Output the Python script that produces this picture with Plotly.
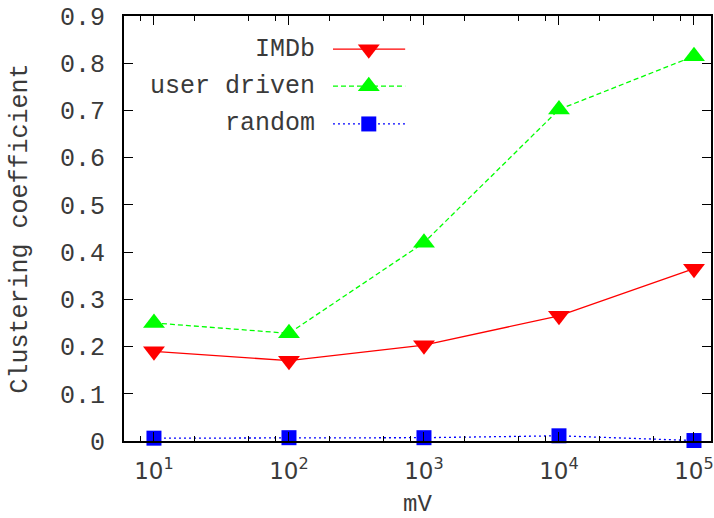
import plotly.graph_objects as go

# ---- data ----
x_mv = [10, 100, 1000, 10000, 100000]
imdb = [0.190, 0.170, 0.203, 0.265, 0.365]
user_driven = [0.250, 0.228, 0.420, 0.702, 0.815]
random_vals = [0.006, 0.007, 0.007, 0.011, 0.001]

series_names = ["IMDb", "user driven", "random"]
x_tickvals = [10, 100, 1000, 10000, 100000]
x_ticktext = ["10<sup>1</sup>", "10<sup>2</sup>", "10<sup>3</sup>", "10<sup>4</sup>", "10<sup>5</sup>"]
x_minor = [m * 10 ** k for k in range(0, 6) for m in (2, 5, 8)]
y_tickvals = [0, 0.1, 0.2, 0.3, 0.4, 0.5, 0.6, 0.7, 0.8, 0.9]
y_ticktext = ["0", "0.1", "0.2", "0.3", "0.4", "0.5", "0.6", "0.7", "0.8", "0.9"]

colors = ["#ff0000", "#00ff00", "#0000ff"]
dashes = ["solid", "5px,3px", "2px,3px"]
symbols = ["triangle-down", "triangle-up", "square"]
msizes = [19, 19, 15]
mono = "Liberation Mono, Courier New, monospace"
txt_color = "#3a3a3a"

fig = go.Figure()
for name, vals, c, d, s, ms in zip(series_names, [imdb, user_driven, random_vals], colors, dashes, symbols, msizes):
    fig.add_trace(go.Scatter(
        x=x_mv, y=vals, name=name, mode="lines+markers",
        line=dict(color=c, width=1.3, dash=d),
        marker=dict(symbol=s, size=ms, color=c, line=dict(width=0)),
        showlegend=False, cliponaxis=False,
    ))

# ---- manual gnuplot-style key (sample lines on an overlay 0..1 axis) ----
key_y = [0.922, 0.835, 0.746]
key_x0, key_x1, key_xm = 0.356, 0.479, 0.417
for name, ky, c, d, s, ms in zip(series_names, key_y, colors, dashes, symbols, msizes):
    fig.add_trace(go.Scatter(
        x=[key_x0, key_x1], y=[ky, ky], mode="lines", xaxis="x2", yaxis="y2",
        line=dict(color=c, width=1.3, dash=d), showlegend=False, hoverinfo="skip"))
    fig.add_trace(go.Scatter(
        x=[key_xm], y=[ky], mode="markers", xaxis="x2", yaxis="y2",
        marker=dict(symbol=s, size=ms, color=c, line=dict(width=0)),
        showlegend=False, hoverinfo="skip"))
    fig.add_annotation(x=0.329, y=ky, xref="paper", yref="paper", text=name,
                       showarrow=False, xanchor="right", yanchor="middle",
                       font=dict(family=mono, size=25, color=txt_color))

fig.update_layout(
    width=714, height=518,
    margin=dict(l=124, r=3, t=16, b=77),
    paper_bgcolor="white", plot_bgcolor="white",
    xaxis=dict(
        type="log", range=[0.778, 5.126], automargin=False,
        tickmode="array", tickvals=x_tickvals, ticktext=x_ticktext,
        ticks="inside", ticklen=9, tickwidth=1.2, tickcolor="black",
        minor=dict(tickmode="array", tickvals=x_minor, ticks="inside", ticklen=5,
                   tickwidth=1.2, tickcolor="black", showgrid=False),
        showline=True, linecolor="black", linewidth=1.8, mirror="allticks",
        showgrid=False, zeroline=False, ticklabelstandoff=8,
        tickfont=dict(family="DejaVu Sans", size=23, color=txt_color),
        title=dict(text="mV", font=dict(family=mono, size=24, color=txt_color), standoff=28),
    ),
    yaxis=dict(
        range=[0, 0.9], tickmode="array", tickvals=y_tickvals, ticktext=y_ticktext,
        automargin=False,
        ticks="inside", ticklen=9, tickwidth=1.2, tickcolor="black",
        showline=True, linecolor="black", linewidth=1.8, mirror="allticks",
        showgrid=False, zeroline=False, ticklabelstandoff=12,
        tickfont=dict(family=mono, size=25, color=txt_color),
        title=dict(text="Clustering coefficient", font=dict(family=mono, size=25, color=txt_color), standoff=25),
    ),
    xaxis2=dict(overlaying="x", range=[0, 1], visible=False, fixedrange=True),
    yaxis2=dict(overlaying="y", range=[0, 1], visible=False, fixedrange=True),
)

fig.write_html("out.html")
